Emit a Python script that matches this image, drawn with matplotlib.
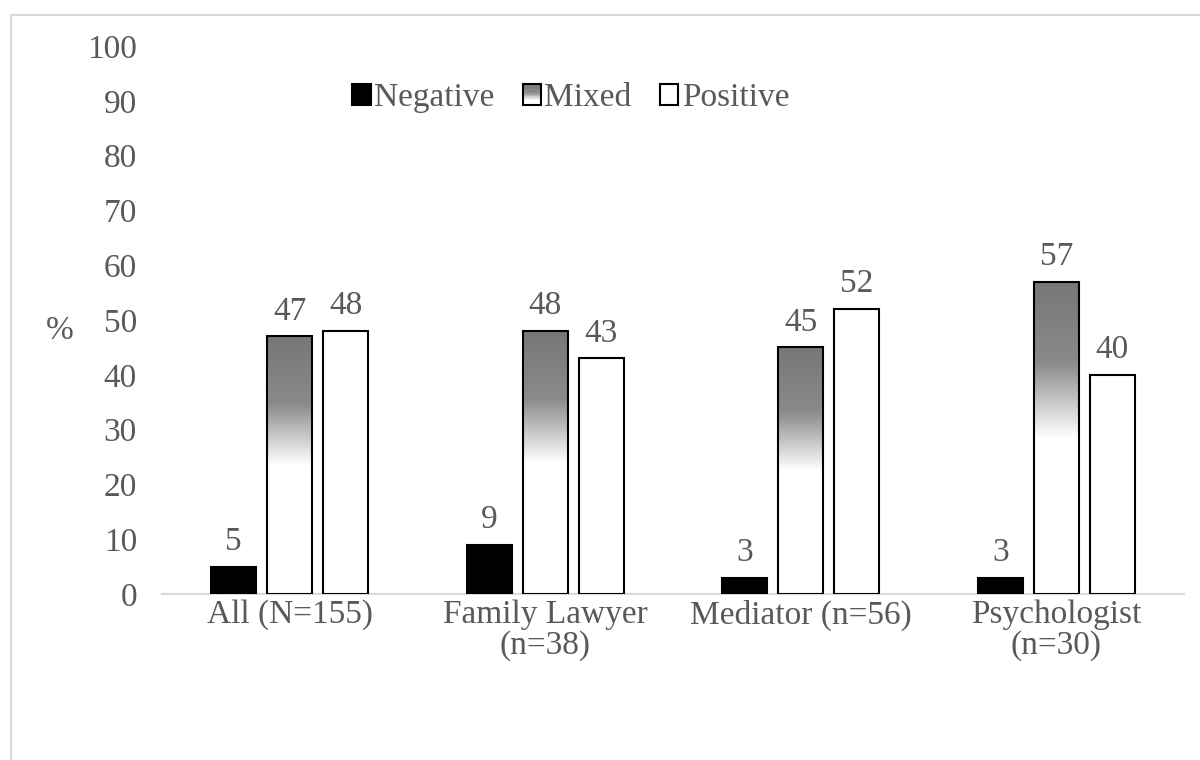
import numpy as np
import matplotlib
matplotlib.use('Agg')
import matplotlib.pyplot as plt
from matplotlib.patches import Rectangle
from matplotlib.legend_handler import HandlerBase
from matplotlib.colors import LinearSegmentedColormap

# data
categories = ['All (N=155)', 'Family Lawyer\n(n=38)', 'Mediator (n=56)', 'Psychologist\n(n=30)']
negative = [5, 9, 3, 3]
mixed = [47, 48, 45, 57]
positive = [48, 43, 52, 40]
yticks = [0, 10, 20, 30, 40, 50, 60, 70, 80, 90, 100]

TXT = '#595959'
plt.rcParams['font.family'] = ['Liberation Serif', 'DejaVu Serif']
plt.rcParams['font.size'] = 24

# gray at top fading to white about halfway down
grad_cmap = LinearSegmentedColormap.from_list(
    'mix', [(0.0, '#ffffff'), (0.50, '#ffffff'), (0.74, '#8a8a8a'), (1.0, '#777777')])


class GradientSquare(HandlerBase):
    # legend swatch drawn as thin stacked strips to fake the gradient
    def create_artists(self, legend, orig_handle, xdescent, ydescent,
                       width, height, fontsize, trans):
        arts = []
        n = 12
        for k in range(n):
            frac = (k + 0.5) / n
            c = grad_cmap(0.35 + 0.65 * frac)
            r = Rectangle((-xdescent, -ydescent + height * k / n), width, height / n,
                          facecolor=c, edgecolor='none', transform=trans)
            arts.append(r)
        arts.append(Rectangle((-xdescent, -ydescent), width, height, facecolor='none',
                              edgecolor='black', linewidth=1.5, transform=trans))
        return arts


fig = plt.figure(figsize=(12, 7.6), dpi=100)
ax = fig.add_axes([0.135, 0.2184, 0.8517, 0.7211])

x = np.arange(len(categories))
w = 0.176
step = 0.219

b_neg = ax.bar(x - step, negative, w, color='black', edgecolor='black', linewidth=1.5,
               label='Negative', zorder=3)
b_pos = ax.bar(x + step, positive, w, color='white', edgecolor='black', linewidth=1.5,
               label='Positive', zorder=3)
b_mix = ax.bar(x, mixed, w, color='none', edgecolor='black', linewidth=1.5,
               label='Mixed', zorder=3)

grad = np.linspace(0, 1, 256).reshape(-1, 1)
for bar in b_mix:
    x0, y0 = bar.get_x(), bar.get_y()
    bw, bh = bar.get_width(), bar.get_height()
    im = ax.imshow(grad, cmap=grad_cmap, origin='lower', aspect='auto',
                   extent=[x0, x0 + bw, y0, y0 + bh], zorder=2, interpolation='bilinear')
    im.set_clip_path(bar)

for bars, vals in [(b_neg, negative), (b_mix, mixed), (b_pos, positive)]:
    for bar, v in zip(bars, vals):
        ax.annotate(str(v), (bar.get_x() + bar.get_width() / 2, v), xytext=(0, 7),
                    textcoords='offset points', ha='center', va='bottom', color=TXT)

ax.set_xlim(-0.5, len(categories) - 0.5)
ax.set_ylim(0, 100)
ax.set_yticks(yticks)
ax.set_xticks(x)
ax.set_xticklabels(categories, color=TXT, linespacing=1.0)
ax.tick_params(axis='y', length=0, pad=18, colors=TXT)
ax.tick_params(axis='x', length=0, pad=4, colors=TXT)
for s in ['top', 'right', 'left']:
    ax.spines[s].set_visible(False)
ax.spines['bottom'].set_color('#d9d9d9')
ax.spines['bottom'].set_linewidth(1.5)

ax.set_ylabel('%', rotation=0, color=TXT, va='center', ha='center')
ax.yaxis.set_label_coords(-0.10, 0.48)

handles = [b_neg, b_mix, b_pos]
ax.legend(handles, ['Negative', 'Mixed', 'Positive'], loc='center',
          bbox_to_anchor=(0.40, 0.905), ncol=3, frameon=False,
          handlelength=0.55, handleheight=0.55, handletextpad=0.1, columnspacing=0.85,
          labelcolor=TXT, handler_map={b_mix: GradientSquare()})

# light chart-area border, running off the right and bottom edges
fig.patches.append(Rectangle((11 / 1200, -0.1), 1.2, 1.1 - 15 / 760, transform=fig.transFigure,
                             facecolor='none', edgecolor='#d9d9d9', linewidth=1.5))

fig.savefig('out.png', dpi=100)
